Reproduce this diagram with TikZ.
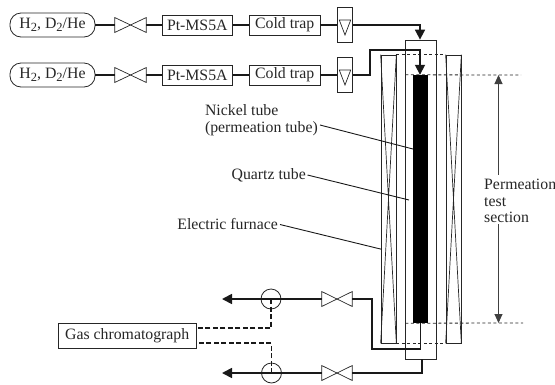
\documentclass[tikz,border=0pt]{standalone}
\usepackage{fontspec}
\setmainfont{Liberation Serif}
\usetikzlibrary{arrows.meta,calc}
\newcommand{\subtwo}{\raisebox{-0.3ex}{\fontsize{12.5}{14}\selectfont 2}}
\newcommand{\valvetie}[1]{\draw[thinln] (#1.north west) -- (#1.south east) -- (#1.north east) -- (#1.south west) -- cycle;}
\tikzset{
  x=1pt,y=-1pt,
  every node/.style={font=\fontsize{15.8}{16.5}\selectfont,text=black!85},
  thinln/.style={line width=0.7pt,draw=black!85},
  pipe/.style={line width=1.7pt,draw=black!90},
  boxn/.style={draw=black!85,line width=0.8pt,inner sep=0pt,minimum height=20pt},
  pill/.style={draw=black!85,line width=0.8pt,rounded corners=11pt,inner sep=0pt,minimum width=85pt,minimum height=24pt},
  valven/.style={inner sep=0pt,minimum width=31pt,minimum height=14.5pt},
  meter/.style={draw=black!85,line width=0.8pt,inner sep=0pt,minimum width=15.5pt,minimum height=35.5pt},
  circn/.style={circle,draw=black!85,line width=0.8pt,inner sep=0pt,minimum size=20pt},
  furn/.style={draw=black!85,line width=0.7pt,inner sep=0pt,minimum width=15pt,minimum height=288pt},
  dashln/.style={line width=0.8pt,draw=black!85,dash pattern=on 3pt off 2.5pt},
  gasln/.style={line width=1.7pt,draw=black!90,dash pattern=on 5pt off 2.5pt},
  leader/.style={line width=0.9pt,draw=black!90},
  bigarrow/.style={-{Triangle[width=10pt,length=10pt]}},
  dimarrow/.style={line width=0.9pt,draw=black!75,-{Triangle[width=8pt,length=9pt]}},
  lbl/.style={inner sep=0pt,align=left}
}
\begin{document}
\begin{tikzpicture}
\useasboundingbox (0,0) rectangle (555,384);
% upstream rows
\node[pill] (g1) at (52.5,25) {H\subtwo, D\subtwo/He};
\node[pill] (g2) at (52.5,75) {H\subtwo, D\subtwo/He};
\node[valven] (v1) at (130.5,25) {};
\node[valven] (v2) at (130.5,75) {};
\node[boxn,minimum width=70pt] (p1) at (197.3,25) {Pt-MS5A};
\node[boxn,minimum width=70pt] (p2) at (197.3,75) {Pt-MS5A};
\node[boxn,minimum width=70.5pt] (t1) at (284.7,25) {Cold trap};
\node[boxn,minimum width=70.5pt] (t2) at (284.7,75) {Cold trap};
\node[meter] (m1) at (345,25) {};
\node[meter] (m2) at (345,75) {};
\foreach \m in {m1,m2}{
  \draw[thinln] ($(\m.center)+(-5.7,-5)$) -- ($(\m.center)+(5.7,-5)$) -- ($(\m.center)+(0,10)$) -- cycle;
}
\valvetie{v1}\valvetie{v2}
% reactor
\node[furn] (fl) at (388.5,199) {};
\node[furn] (fr) at (453.5,199) {};
\draw[thinln] (fl.north west) -- (fl.south east) (fl.north east) -- (fl.south west);
\draw[thinln] (fr.north west) -- (fr.south east) (fr.north east) -- (fr.south west);
\node[draw=black!85,line width=0.8pt,inner sep=0pt,minimum width=30.5pt,minimum height=319pt] (q) at (421,199.5) {};
\node[fill=black,inner sep=0pt,minimum width=15pt,minimum height=248pt] (ni) at (420.5,199) {};
% dashed section marks
\coordinate (dimT) at (498.5,75);
\coordinate (dimB) at (498.5,323);
\coordinate (dT) at (521,75);
\coordinate (dB) at (523,323);
\draw[dashln] (fl.north east) -- (fr.north west);
\draw[dashln] (fl.south east) -- (fr.south west);
\draw[dashln] (q.west |- ni.north) -- (dT);
\draw[dashln] (q.west |- ni.south) -- (dB);
% pipes, upstream
\draw[pipe] (g1) -- (v1); \draw[pipe] (v1) -- (p1); \draw[pipe] (p1) -- (t1); \draw[pipe] (t1) -- (m1);
\draw[pipe] (g2) -- (v2); \draw[pipe] (v2) -- (p2); \draw[pipe] (p2) -- (t2); \draw[pipe] (t2) -- (m2);
\draw[pipe,bigarrow] (m1.east) -| ([xshift=-1pt]q.north);
\draw[pipe,bigarrow] (m2.east) -- (370,75) -- (370,50) -| ([xshift=-0.5pt]ni.north);
% downstream
\node[circn] (c1) at (271,299) {};
\node[circn] (c2) at (271.5,373) {};
\node[valven,minimum width=30pt] (v3) at (337,299) {};
\node[valven,minimum width=30pt] (v4) at (337,373) {};
\valvetie{v3}\valvetie{v4}
\coordinate (a1) at (222,299);
\coordinate (a2) at (222,373);
\draw[pipe,bigarrow] (v3.west) -- (a1);
\draw[pipe,bigarrow] (v4.west) -- (a2);
\draw[pipe] (v3.east) -- (371.7,299) -- (371.7,348.7) -| (ni.south);
\draw[pipe] (v4.east) -| ([xshift=0.7pt]q.south);
% gas chromatograph
\node[boxn,minimum width=138pt,minimum height=25pt] (gc) at (127.2,335.8) {Gas chromatograph};
\draw[gasln] (c1.center) |- ([yshift=7.5pt]gc.east);
\draw[gasln] (c2.center) |- ([yshift=-7.5pt]gc.east);
% labels
\node[lbl,anchor=east] (lnt) at (318,120) {Nickel tube\\(permeation tube)};
\node[lbl,anchor=east] (lqt) at (306,175) {Quartz tube};
\node[lbl,anchor=east] (lef) at (278,224.5) {Electric furnace};
\coordinate (nx) at (413,149);
\coordinate (qx) at (409,200);
\coordinate (fx) at (381.7,249.3);
\draw[leader] ([xshift=2pt,yshift=-5pt]lnt.east) -- (nx);
\draw[leader] ([xshift=1.5pt]lqt.east) -- (qx);
\draw[leader] ([xshift=2pt]lef.east) -- (fx);
\node[lbl,anchor=west,minimum height=46pt] (perm) at (484,201) {Permeation\\test\\section};
\coordinate (permtop) at ([yshift=3pt]perm.north);
\draw[dimarrow] (dimT |- permtop) -- (dimT);
\draw[dimarrow] (dimB |- perm.south) -- (dimB);
\end{tikzpicture}
\end{document}
